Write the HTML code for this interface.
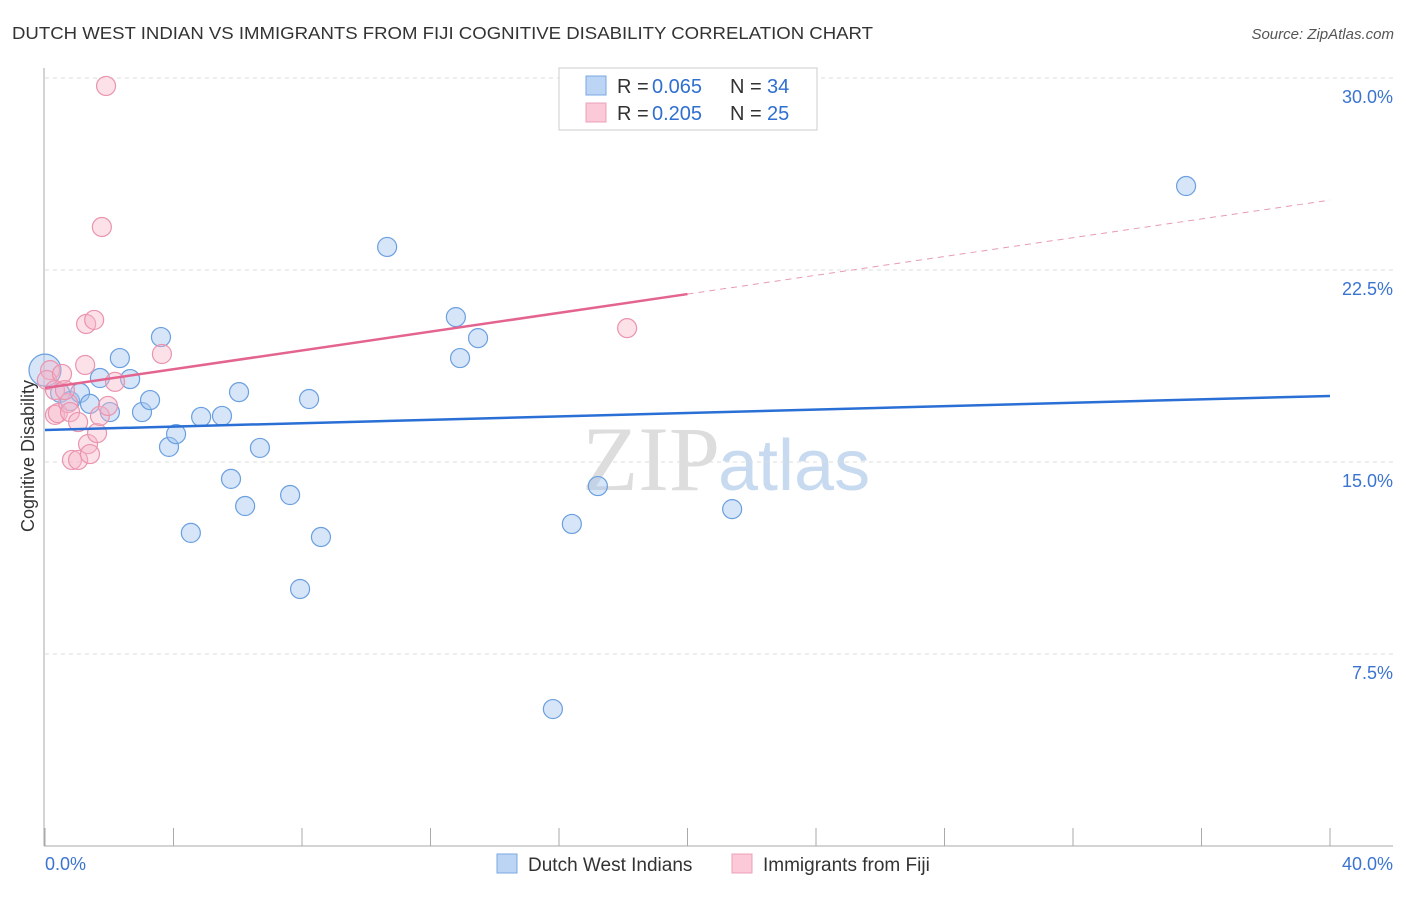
<!DOCTYPE html><html><head><meta charset="utf-8"><style>body{margin:0;background:#fff;font-family:"Liberation Sans",sans-serif}</style></head><body>
<svg id="c" width="1406" height="892" font-family="Liberation Sans, sans-serif">
<text x="12" y="39" font-size="17.5" fill="#333" textLength="861" lengthAdjust="spacingAndGlyphs">DUTCH WEST INDIAN VS IMMIGRANTS FROM FIJI COGNITIVE DISABILITY CORRELATION CHART</text>
<text x="1394" y="39" font-size="15" fill="#555" font-style="italic" text-anchor="end">Source: ZipAtlas.com</text>
<text x="720" y="490" font-size="92" fill="#ddd" text-anchor="end" font-family="Liberation Serif, serif">ZIP</text>
<text x="718" y="490" font-size="72" fill="#c8daf0">atlas</text>
<text transform="translate(34,456) rotate(-90)" font-size="18" fill="#333" text-anchor="middle">Cognitive Disability</text>
<g id="grid"></g><g id="marks"></g>
<g>
<rect x="559" y="68" width="258" height="62" fill="#fff" stroke="#ccc"/>
<rect x="586" y="76" width="20" height="19" fill="#bcd5f5" stroke="#7aa8e4"/>
<rect x="586" y="103" width="20" height="19" fill="#fbc9d7" stroke="#eda0b8"/>
<text x="617" y="93" font-size="20" fill="#333">R =</text>
<text x="652" y="93" font-size="20" fill="#2f6fd0">0.065</text>
<text x="730" y="93" font-size="20" fill="#333">N =</text>
<text x="767" y="93" font-size="20" fill="#2f6fd0">34</text>
<text x="617" y="120" font-size="20" fill="#333">R =</text>
<text x="652" y="120" font-size="20" fill="#2f6fd0">0.205</text>
<text x="730" y="120" font-size="20" fill="#333">N =</text>
<text x="767" y="120" font-size="20" fill="#2f6fd0">25</text>
</g>
<g>
<rect x="497" y="854" width="20" height="19" fill="#bcd5f5" stroke="#7aa8e4"/>
<text x="528" y="871" font-size="19" fill="#333">Dutch West Indians</text>
<rect x="732" y="854" width="20" height="19" fill="#fbc9d7" stroke="#eda0b8"/>
<text x="763" y="871" font-size="19" fill="#333">Immigrants from Fiji</text>
</g>
</svg>
<script>
const yTicks=[7.5,15,22.5,30];
const yTickLabels=["7.5%","15.0%","22.5%","30.0%"];
const xTickLabels=["0.0%","40.0%"];
const blueX=[0,0.47,0.78,1.09,1.40,1.71,2.02,2.33,2.65,3.02,3.27,3.61,3.86,4.08,4.54,4.86,5.51,5.79,6.04,6.23,6.69,7.63,7.94,8.22,8.59,10.65,12.79,12.92,13.48,15.81,16.40,17.21,21.39,35.52];
const blueY=[18.59,17.70,17.38,17.70,17.27,18.28,16.95,19.06,18.24,16.95,17.42,19.88,15.59,16.09,12.23,16.76,16.80,14.34,17.73,13.28,15.55,13.71,10.04,17.46,12.07,23.40,20.66,19.06,19.84,5.35,12.58,14.06,13.16,25.78];
const pinkX=[0.16,0.06,0.31,0.40,0.53,0.72,0.78,0.84,1.03,1.03,1.25,1.28,1.34,1.40,1.53,1.62,1.71,1.77,1.90,1.96,2.18,3.64,18.12,0.31,0.62];
const pinkY=[18.59,18.20,16.84,16.91,18.44,17.30,16.95,15.08,15.08,16.56,18.79,20.39,15.70,15.31,20.55,16.13,16.80,24.18,29.69,17.19,18.13,19.22,20.23,17.81,17.81];
const blueLine=[16.25,17.58];
const pinkLine=[17.89,21.56,25.23];
const X=v=>45+v/40*1285, Y=v=>846-v*25.6;
const NS="http://www.w3.org/2000/svg";
function mk(t,a,p){const e=document.createElementNS(NS,t);for(const k in a)e.setAttribute(k,a[k]);p.appendChild(e);return e;}
const g=document.getElementById('grid'),m=document.getElementById('marks');
yTicks.forEach((v,i)=>{
 const l=mk('line',{x1:45,x2:1393,y1:Y(v),y2:Y(v),stroke:'#ddd','stroke-dasharray':'4,4'},g);
 
 
 const t=mk('text',{x:1393,y:Y(v)+25,'font-size':18,fill:'#3b74d0','text-anchor':'end'},g);t.textContent=yTickLabels[i];
 
 
});
mk('line',{x1:44,x2:44,y1:68,y2:846,stroke:'#aaa'},g);
mk('line',{x1:44,x2:1393,y1:846,y2:846,stroke:'#aaa'},g);
for(let i=0;i<=10;i++){const t=mk('line',{x1:X(i*4),x2:X(i*4),y1:828,y2:846,stroke:'#aaa'},g);
 
 }
[[45,'start'],[1393,'end']].forEach((p,i)=>{const t=mk('text',{x:p[0],y:870,'font-size':18,fill:'#3b74d0','text-anchor':p[1]},g);t.textContent=xTickLabels[i];
 
 });
blueX.forEach((x,i)=>{const c=mk('circle',{cx:X(x),cy:Y(blueY[i]),r:i==0?16:9.5,fill:'rgba(165,198,240,0.45)',stroke:'#6a9fe0','stroke-width':1.2},m);
 
 });
pinkX.forEach((x,i)=>{const c=mk('circle',{cx:X(x),cy:Y(pinkY[i]),r:9.5,fill:'rgba(248,180,200,0.4)',stroke:'#ea94ae','stroke-width':1.2},m);
 
 });
let l=mk('line',{x1:X(0),y1:Y(blueLine[0]),x2:X(40),y2:Y(blueLine[1]),stroke:'#2a6fd6','stroke-width':2.5},m);


l=mk('line',{x1:X(0),y1:Y(pinkLine[0]),x2:X(20),y2:Y(pinkLine[1]),stroke:'#e46490','stroke-width':2.5},m);


l=mk('line',{x1:X(20),y1:Y(pinkLine[1]),x2:X(40),y2:Y(pinkLine[2]),stroke:'#e89ab4','stroke-width':1,'stroke-dasharray':'6,5'},m);


</script></body></html>
